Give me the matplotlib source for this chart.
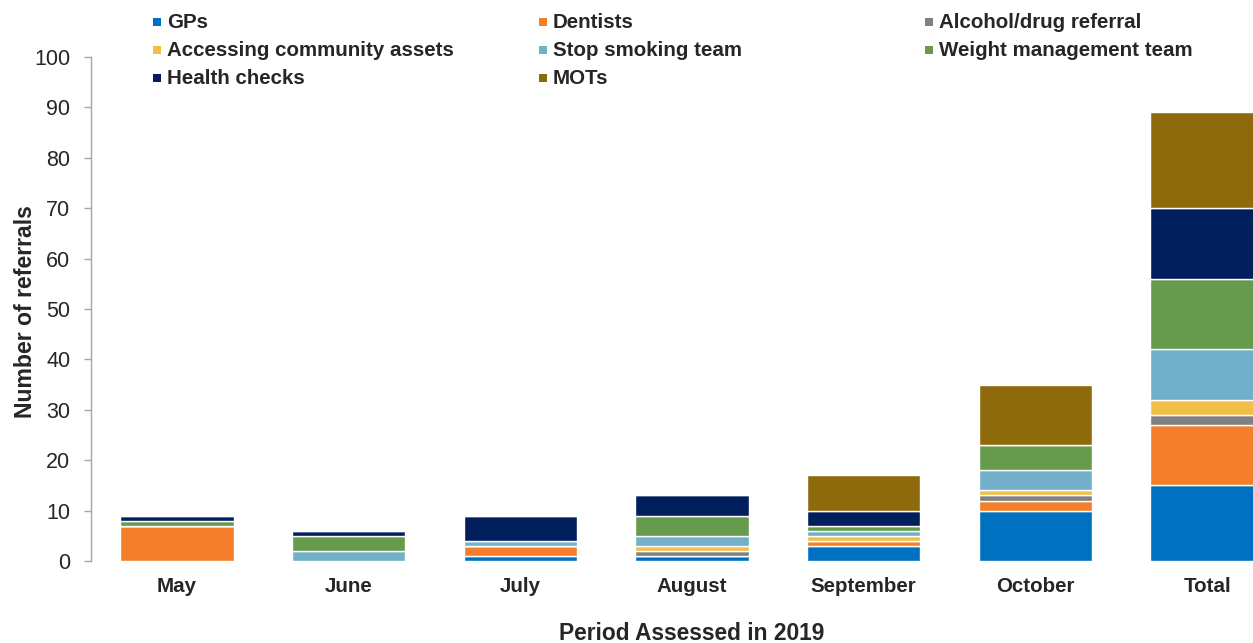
import matplotlib
matplotlib.use("Agg")
import matplotlib.pyplot as plt
from matplotlib.patches import Rectangle
import numpy as np

plt.rcParams['font.family'] = ['Liberation Sans', 'DejaVu Sans']

categories = ["May", "June", "July", "August", "September", "October", "Total"]
series_names = ["GPs", "Dentists", "Alcohol/drug referral", "Accessing community assets",
                "Stop smoking team", "Weight management team", "Health checks", "MOTs"]
gps        = [0, 0, 1, 1, 3, 10, 15]
dentists   = [7, 0, 2, 0, 1, 2, 12]
alcohol    = [0, 0, 0, 1, 0, 1, 2]
community  = [0, 0, 0, 1, 1, 1, 3]
smoking    = [0, 2, 1, 2, 1, 4, 10]
weight     = [1, 3, 0, 4, 1, 5, 14]
health     = [1, 1, 5, 4, 3, 0, 14]
mots       = [0, 0, 0, 0, 7, 12, 19]
series = [gps, dentists, alcohol, community, smoking, weight, health, mots]
colors = ["#0070C0", "#F57E2A", "#808080", "#F2BE4A", "#71B0C8", "#669A4D", "#001F5C", "#8E6A0C"]
yticks = [0, 10, 20, 30, 40, 50, 60, 70, 80, 90, 100]

W, H = 1253, 643
fig = plt.figure(figsize=(W / 100, H / 100), dpi=100)
ax = fig.add_axes([91 / W, 82 / H, 1202 / W, 504 / H])

x = np.arange(len(categories))
bottom = np.zeros(len(categories))
for vals, col in zip(series, colors):
    v = np.array(vals, dtype=float)
    ax.bar(x, v, bottom=bottom, width=0.66, color=col, edgecolor="white", linewidth=1.0)
    bottom += v

txt = "#262626"
ax.set_xlim(-0.5, len(categories) - 0.5)
ax.set_ylim(0, 100)
ax.set_yticks(yticks)
ax.set_yticklabels([str(t) for t in yticks], fontsize=15.5, color=txt)
ax.set_xticks(x)
ax.set_xticklabels(categories, fontsize=14.8, fontweight="bold", color=txt)
ax.tick_params(axis="x", length=0, pad=11.5)
ax.tick_params(axis="y", length=5, width=1, color="#A6A6A6", pad=10)
for s in ["top", "right", "bottom"]:
    ax.spines[s].set_visible(False)
ax.spines["left"].set_color("#A6A6A6")
ax.spines["left"].set_linewidth(1)

ax.set_ylabel("Number of referrals", fontsize=16.6, fontweight="bold", color=txt)
ax.yaxis.set_label_coords(-54 / 1202, 0.495)
ax.set_xlabel("Period Assessed in 2019", fontsize=16.4, fontweight="bold", color=txt)
ax.xaxis.set_label_coords(0.5, -61 / 504)

# Legend (row-major, 3 columns)
col_x = [167, 553, 939]
row_y = [23, 51, 79]
for i, (name, col) in enumerate(zip(series_names, colors)):
    r, c = divmod(i, 3)
    tx, ty = col_x[c], row_y[r]
    fig.patches.append(Rectangle(((tx - 14) / W, 1 - (ty + 3) / H), 8 / W, 8 / H,
                                 transform=fig.transFigure, facecolor=col, edgecolor="none"))
    fig.text(tx / W, 1 - ty / H, name, fontsize=14.8, fontweight="bold", color=txt,
             ha="left", va="center")

fig.savefig("out.png", dpi=100)
